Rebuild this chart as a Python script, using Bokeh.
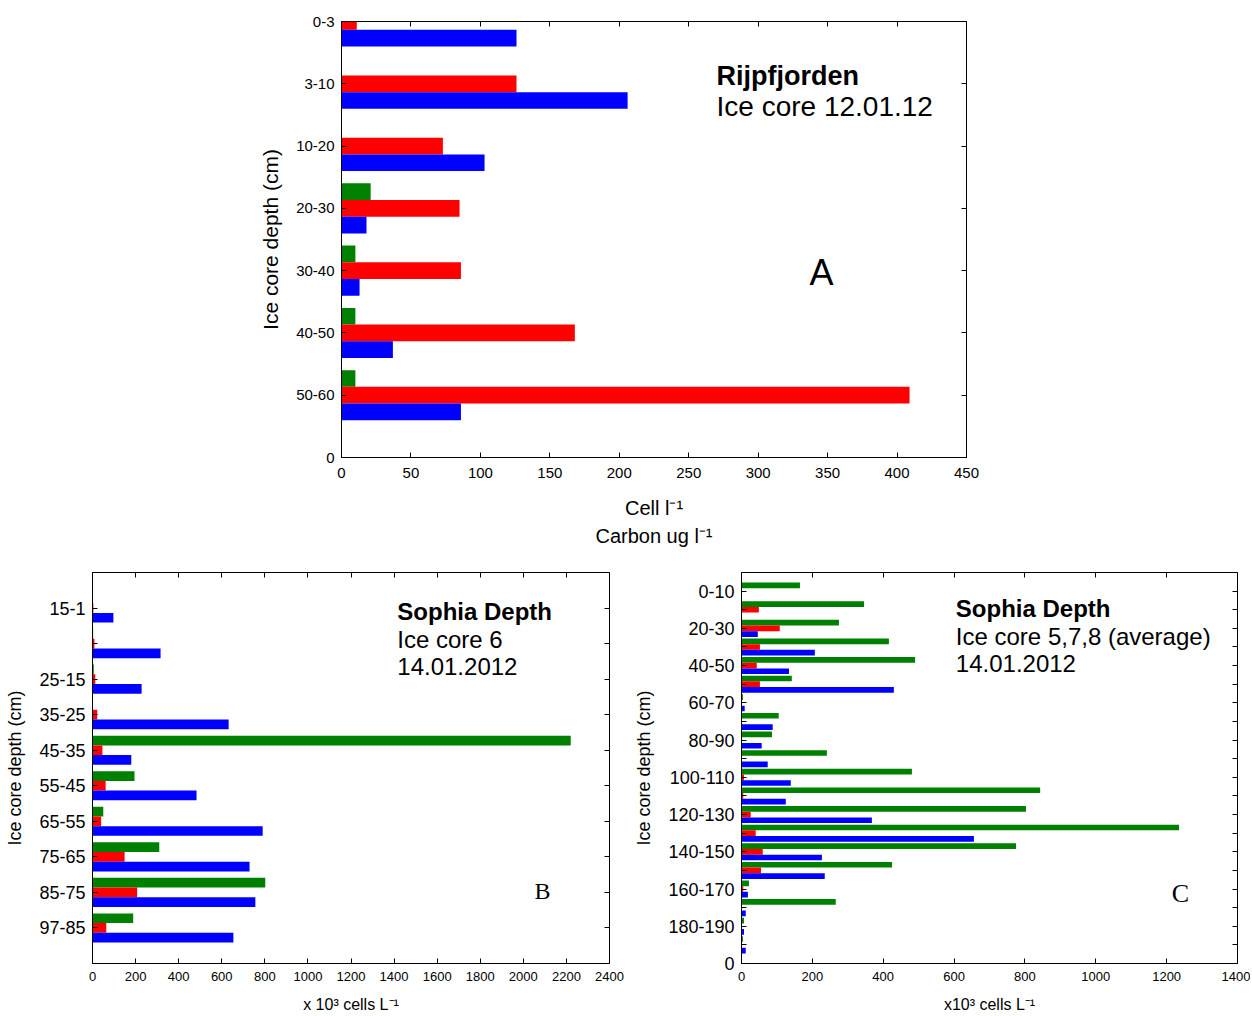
from bokeh.plotting import figure
from bokeh.models import Range1d, FixedTicker, LinearAxis, Title, Spacer
from bokeh.layouts import column, row
from bokeh.embed import file_html
from bokeh.resources import INLINE
from bokeh.core.properties import value

# ---------------- data ----------------
# Panel A: Rijpfjorden, ice core 12.01.12
A_depths = ["0-3", "3-10", "10-20", "20-30", "30-40", "40-50", "50-60"]
A_green = [0, 0, 0, 21, 10, 10, 10]
A_red = [11, 126, 73, 85, 86, 168, 409]
A_blue = [126, 206, 103, 18, 13, 37, 86]

# Panel B: Sophia Depth, ice core 6
B_depths = ["15-1", "", "25-15", "35-25", "45-35", "55-45", "65-55", "75-65", "85-75", "97-85"]
B_green = [0, 3, 6, 2, 2220, 195, 50, 310, 802, 189]
B_red = [4, 9, 13, 22, 46, 61, 40, 149, 207, 64]
B_blue = [97, 316, 228, 632, 180, 483, 790, 729, 756, 654]

# Panel C: Sophia Depth, ice cores 5,7,8 (average)
C_depths = ["0-10", "10-20", "20-30", "30-40", "40-50", "50-60", "60-70", "70-80", "80-90", "90-100",
            "100-110", "110-120", "120-130", "130-140", "140-150", "150-160", "160-170", "170-180",
            "180-190", "190-200"]
C_tick_labels = ["0-10", "", "20-30", "", "40-50", "", "60-70", "", "80-90", "",
                 "100-110", "", "120-130", "", "140-150", "", "160-170", "", "180-190", ""]
C_green = [165, 346, 275, 416, 490, 142, 4, 105, 86, 241, 481, 843, 803, 1235, 775, 425, 21, 266, 7, 4]
C_red = [0, 49, 108, 52, 43, 52, 0, 0, 0, 0, 7, 5, 26, 40, 60, 55, 5, 0, 0, 0]
C_blue = [0, 0, 46, 207, 134, 430, 9, 88, 57, 74, 139, 125, 368, 656, 227, 235, 18, 12, 7, 12]

BLUE = "#0000ff"
RED = "#ff0000"
GREEN = "#008000"
FONT = "Liberation Sans"
SERIF = "Liberation Serif"


def panel(labels, green, red, blue, offset, bottom_label, bar_h, x_end, x_step,
          width, height, mbl, mbr, mbt, mbb, ytick_fs, xtick_fs, ytitle, ytitle_fs,
          xtitle, xtitle_fs, xtick_standoff, xtitle_standoff):
    n = len(labels)
    y_end = offset + n
    p = figure(width=width, height=height, x_range=Range1d(0, x_end), y_range=Range1d(y_end, 0),
               output_backend="svg", toolbar_location=None,
               min_border_left=mbl, min_border_right=mbr, min_border_top=mbt, min_border_bottom=mbb)
    ys = [offset + i for i in range(n)]
    p.hbar(y=[y - bar_h for y in ys], left=0, right=green, height=bar_h, color=GREEN, line_color=None)
    p.hbar(y=ys, left=0, right=red, height=bar_h, color=RED, line_color=None)
    p.hbar(y=[y + bar_h for y in ys], left=0, right=blue, height=bar_h, color=BLUE, line_color=None)

    p.grid.grid_line_color = None
    p.outline_line_color = "black"
    p.outline_line_width = 1

    yticks = list(ys)
    overrides = {y: lab for y, lab in zip(ys, labels)}
    if bottom_label is not None:
        yticks.append(y_end)
        overrides[y_end] = bottom_label
    xticks = list(range(0, x_end + 1, x_step))

    yax = p.yaxis[0]
    yax.ticker = FixedTicker(ticks=yticks)
    yax.major_label_overrides = overrides
    yax.major_tick_in = 5
    yax.major_tick_out = 0
    yax.minor_tick_line_color = None
    yax.major_label_standoff = 7
    yax.major_label_text_font = FONT
    yax.major_label_text_font_size = ytick_fs
    yax.major_label_text_color = "black"
    yax.axis_label = ytitle
    yax.axis_label_text_font = FONT
    yax.axis_label_text_font_size = ytitle_fs
    yax.axis_label_text_font_style = "normal"
    yax.axis_label_text_color = "black"
    yax.axis_label_standoff = 11

    xax = p.xaxis[0]
    xax.ticker = FixedTicker(ticks=xticks)
    xax.major_tick_in = 5
    xax.major_tick_out = 0
    xax.minor_tick_line_color = None
    xax.major_label_standoff = xtick_standoff
    xax.major_label_text_font = FONT
    xax.major_label_text_font_size = xtick_fs
    xax.major_label_text_color = "black"
    xax.axis_label = xtitle
    xax.axis_label_text_font = FONT
    xax.axis_label_text_font_size = xtitle_fs
    xax.axis_label_text_font_style = "normal"
    xax.axis_label_text_color = "black"
    xax.axis_label_standoff = xtitle_standoff

    top = LinearAxis(ticker=FixedTicker(ticks=xticks), major_label_overrides={t: "" for t in xticks},
                     major_tick_in=5, major_tick_out=0, minor_tick_line_color=None,
                     axis_line_color=None, major_label_standoff=0, major_label_text_font_size="1px")
    p.add_layout(top, "above")
    right = LinearAxis(ticker=FixedTicker(ticks=yticks), major_label_overrides={t: "" for t in yticks},
                       major_tick_in=5, major_tick_out=0, minor_tick_line_color=None,
                       axis_line_color=None, major_label_standoff=0, major_label_text_font_size="1px")
    p.add_layout(right, "right")
    return p


# ---------------- panel A ----------------
pA = panel(A_depths, A_green, A_red, A_blue, 0, "0", 0.268, 450, 50,
           755, 557, 100, 30, 21, 100, "15px", "15px", "Ice core depth (cm)", "21px",
           "Cell l\u207b\u00b9", "20px", 10, 16)
pA.add_layout(Title(text="Carbon ug l\u207b\u00b9", align="center", text_font=FONT,
                    text_font_size="20px", text_font_style="normal", text_color="black",
                    standoff=2), "below")
pA.text(x=[270], y=[0.867], text=["Rijpfjorden"], text_font=value(FONT), text_font_size="27px",
        text_baseline="middle", text_align="left", text_color="black", text_font_style="bold")
pA.text(x=[270], y=[1.365], text=["Ice core 12.01.12"], text_font=value(FONT), text_font_size="28px",
        text_baseline="middle", text_align="left", text_color="black")
pA.text(x=[345.6], y=[4.03], text=["A"], text_font=value(FONT), text_font_size="36px",
        text_baseline="middle", text_align="center", text_color="black")

# ---------------- panel B ----------------
pB = panel(B_depths, B_green, B_red, B_blue, 1, None, 0.273, 2400, 200,
           630, 459, 92, 21, 15, 53, "18px", "13px", "Ice core depth (cm)", "18px",
           "x 10\u00b3 cells L\u207b\u00b9", "16px", 8, 12)
pB.text(x=[1415], y=[1.097], text=["Sophia Depth"], text_font=value(FONT), text_font_size="24px",
        text_baseline="middle", text_align="left", text_color="black", text_font_style="bold")
pB.text(x=[1415, 1415], y=[1.885, 2.645], text=["Ice core 6", "14.01.2012"], text_font=value(FONT),
        text_font_size="24px", text_baseline="middle", text_align="left", text_color="black")
pB.text(x=[2089], y=[8.95], text=["B"], text_font=value(SERIF), text_font_size="24px",
        text_baseline="middle", text_align="center", text_color="black")

# ---------------- panel C ----------------
pC = panel(C_tick_labels, C_green, C_red, C_blue, 1, "0", 0.305, 1400, 200,
           620, 459, 111, 13, 15, 52, "18px", "13px", "Ice core depth (cm)", "18px",
           "x10\u00b3 cells L\u207b\u00b9", "16px", 8, 12)
pC.text(x=[605], y=[1.93], text=["Sophia Depth"], text_font=value(FONT), text_font_size="24px",
        text_baseline="middle", text_align="left", text_color="black", text_font_style="bold")
pC.text(x=[605, 605], y=[3.43, 4.875], text=["Ice core 5,7,8 (average)", "14.01.2012"],
        text_font=value(FONT), text_font_size="24px", text_baseline="middle", text_align="left",
        text_color="black")
pC.text(x=[1239], y=[17.25], text=["C"], text_font=value(SERIF), text_font_size="26px",
        text_baseline="middle", text_align="center", text_color="black")

layout = column(row(Spacer(width=241, height=557), pA), row(pB, pC))

open("out.html", "w").write(file_html(layout, INLINE))
